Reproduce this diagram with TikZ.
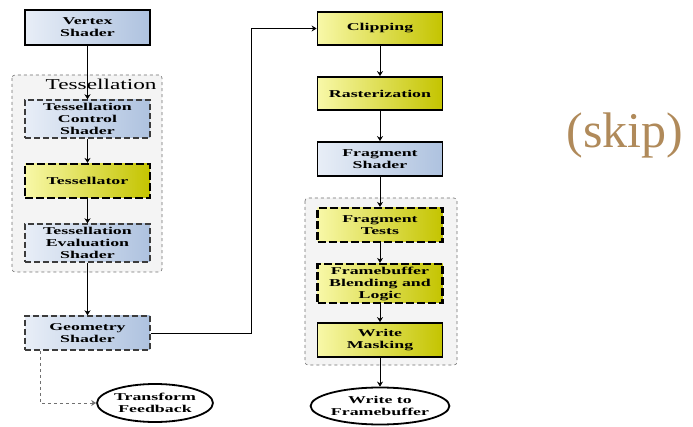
\documentclass[tikz,border=0pt]{standalone}
\usepackage{fontspec}
\setmainfont{Liberation Serif}
\newfontfamily\stagefont[FakeStretch=1.7]{Liberation Serif}
\newfontfamily\groupfont[FakeStretch=1.55]{Liberation Serif}
\usepackage{xcolor}
\definecolor{BlueLight}{HTML}{E8EEF7}
\definecolor{BlueDark}{HTML}{AEC2DF}
\definecolor{YellowLight}{HTML}{F8F8A8}
\definecolor{YellowDark}{HTML}{C4C400}
\definecolor{GroupFill}{HTML}{F4F4F4}
\definecolor{GroupBorder}{HTML}{707070}
\definecolor{DashGray}{HTML}{3C3C3C}
\definecolor{SkipBrown}{HTML}{B08A5A}
\usetikzlibrary{shapes.geometric, arrows.meta}
\tikzset{
  every picture/.style={font={\stagefont\bfseries\fontsize{10.5}{12}\selectfont}, >={Stealth[length=5pt, width=6pt]}},
  stage/.style={rectangle, align=center, minimum width=125pt, inner sep=1pt},
  blue/.style={stage, left color=BlueLight, right color=BlueDark},
  yellow/.style={stage, left color=YellowLight, right color=YellowDark},
  fixed/.style={draw=black, line width=1.8pt},
  optional/.style={draw=DashGray, line width=1.5pt, dash pattern=on 6pt off 3pt},
  strong/.style={draw=black, line width=2.2pt, dash pattern=on 8pt off 3pt},
  output/.style={ellipse, draw=black, line width=1.8pt, fill=white, align=center, inner sep=0pt},
  group/.style={draw=GroupBorder, fill=GroupFill, dashed, rounded corners=3pt, line width=0.6pt}}

\begin{document}
\begin{tikzpicture}[x=1pt, y=-1pt]
    \useasboundingbox (0,0) rectangle (693,427);

    % groups
    \draw[group] (12,75) rectangle (162,272);
    \draw[group] (305,198) rectangle (457,365);
    \node[anchor=east, font={\groupfont\fontsize{15}{15}\selectfont}] (tesslabel) at (160,84) {Tessellation};

    % left column
    \node[blue, fixed, minimum height=35pt] (vertex) at (87.5,27.5) {Vertex\\Shader};
    \node[blue, optional, minimum height=38pt] (tcs) at (87.5,119) {Tessellation\\Control\\Shader};
    \node[yellow, strong, minimum height=34pt] (tessor) at (87.5,181) {Tessellator};
    \node[blue, optional, minimum height=38pt] (tes) at (87.5,243) {Tessellation\\Evaluation\\Shader};
    \node[blue, optional, minimum height=34pt] (geometry) at (87.5,333) {Geometry\\Shader};
    \node[output, minimum width=96pt, minimum height=38pt] (feedback) at (155,403) {Transform\\Feedback};

    % right column
    \node[yellow, fixed, minimum height=33pt] (clip) at (380,28.5) {Clipping};
    \node[yellow, fixed, minimum height=33pt] (raster) at (380,93.5) {Rasterization};
    \node[blue, fixed, minimum height=34pt] (fragment) at (380,159) {Fragment\\Shader};
    \node[yellow, strong, minimum height=34pt] (tests) at (380,225) {Fragment\\Tests};
    \node[yellow, strong, minimum height=39pt] (blend) at (380,283.5) {Framebuffer\\Blending and\\Logic};
    \node[yellow, fixed, minimum height=34pt] (mask) at (380,340) {Write\\Masking};
    \node[output, minimum width=120pt, minimum height=37pt] (framebuffer) at (380,406) {Write to\\Framebuffer};

    % connectors
    \foreach \from/\to in {vertex/tcs, tcs/tessor, tessor/tes, tes/geometry,
                           clip/raster, raster/fragment, fragment/tests, tests/blend,
                           blend/mask, mask/framebuffer} {
      \draw[->, line width=0.7pt] (\from) -- (\to);
    }

    \coordinate (turn) at (251,0);
    \coordinate (tap) at (40,0);
    \draw[->, line width=0.7pt] (geometry.east) -- (geometry.east -| turn) -- (turn |- clip.west) -- (clip.west);
    \draw[->, GroupBorder, dashed, line width=0.7pt] (geometry.south -| tap) |- (feedback.west);

    \node[SkipBrown, font={\fontsize{50}{50}\selectfont}] (skip) at (625,135) {(skip)};
\end{tikzpicture}
\end{document}
